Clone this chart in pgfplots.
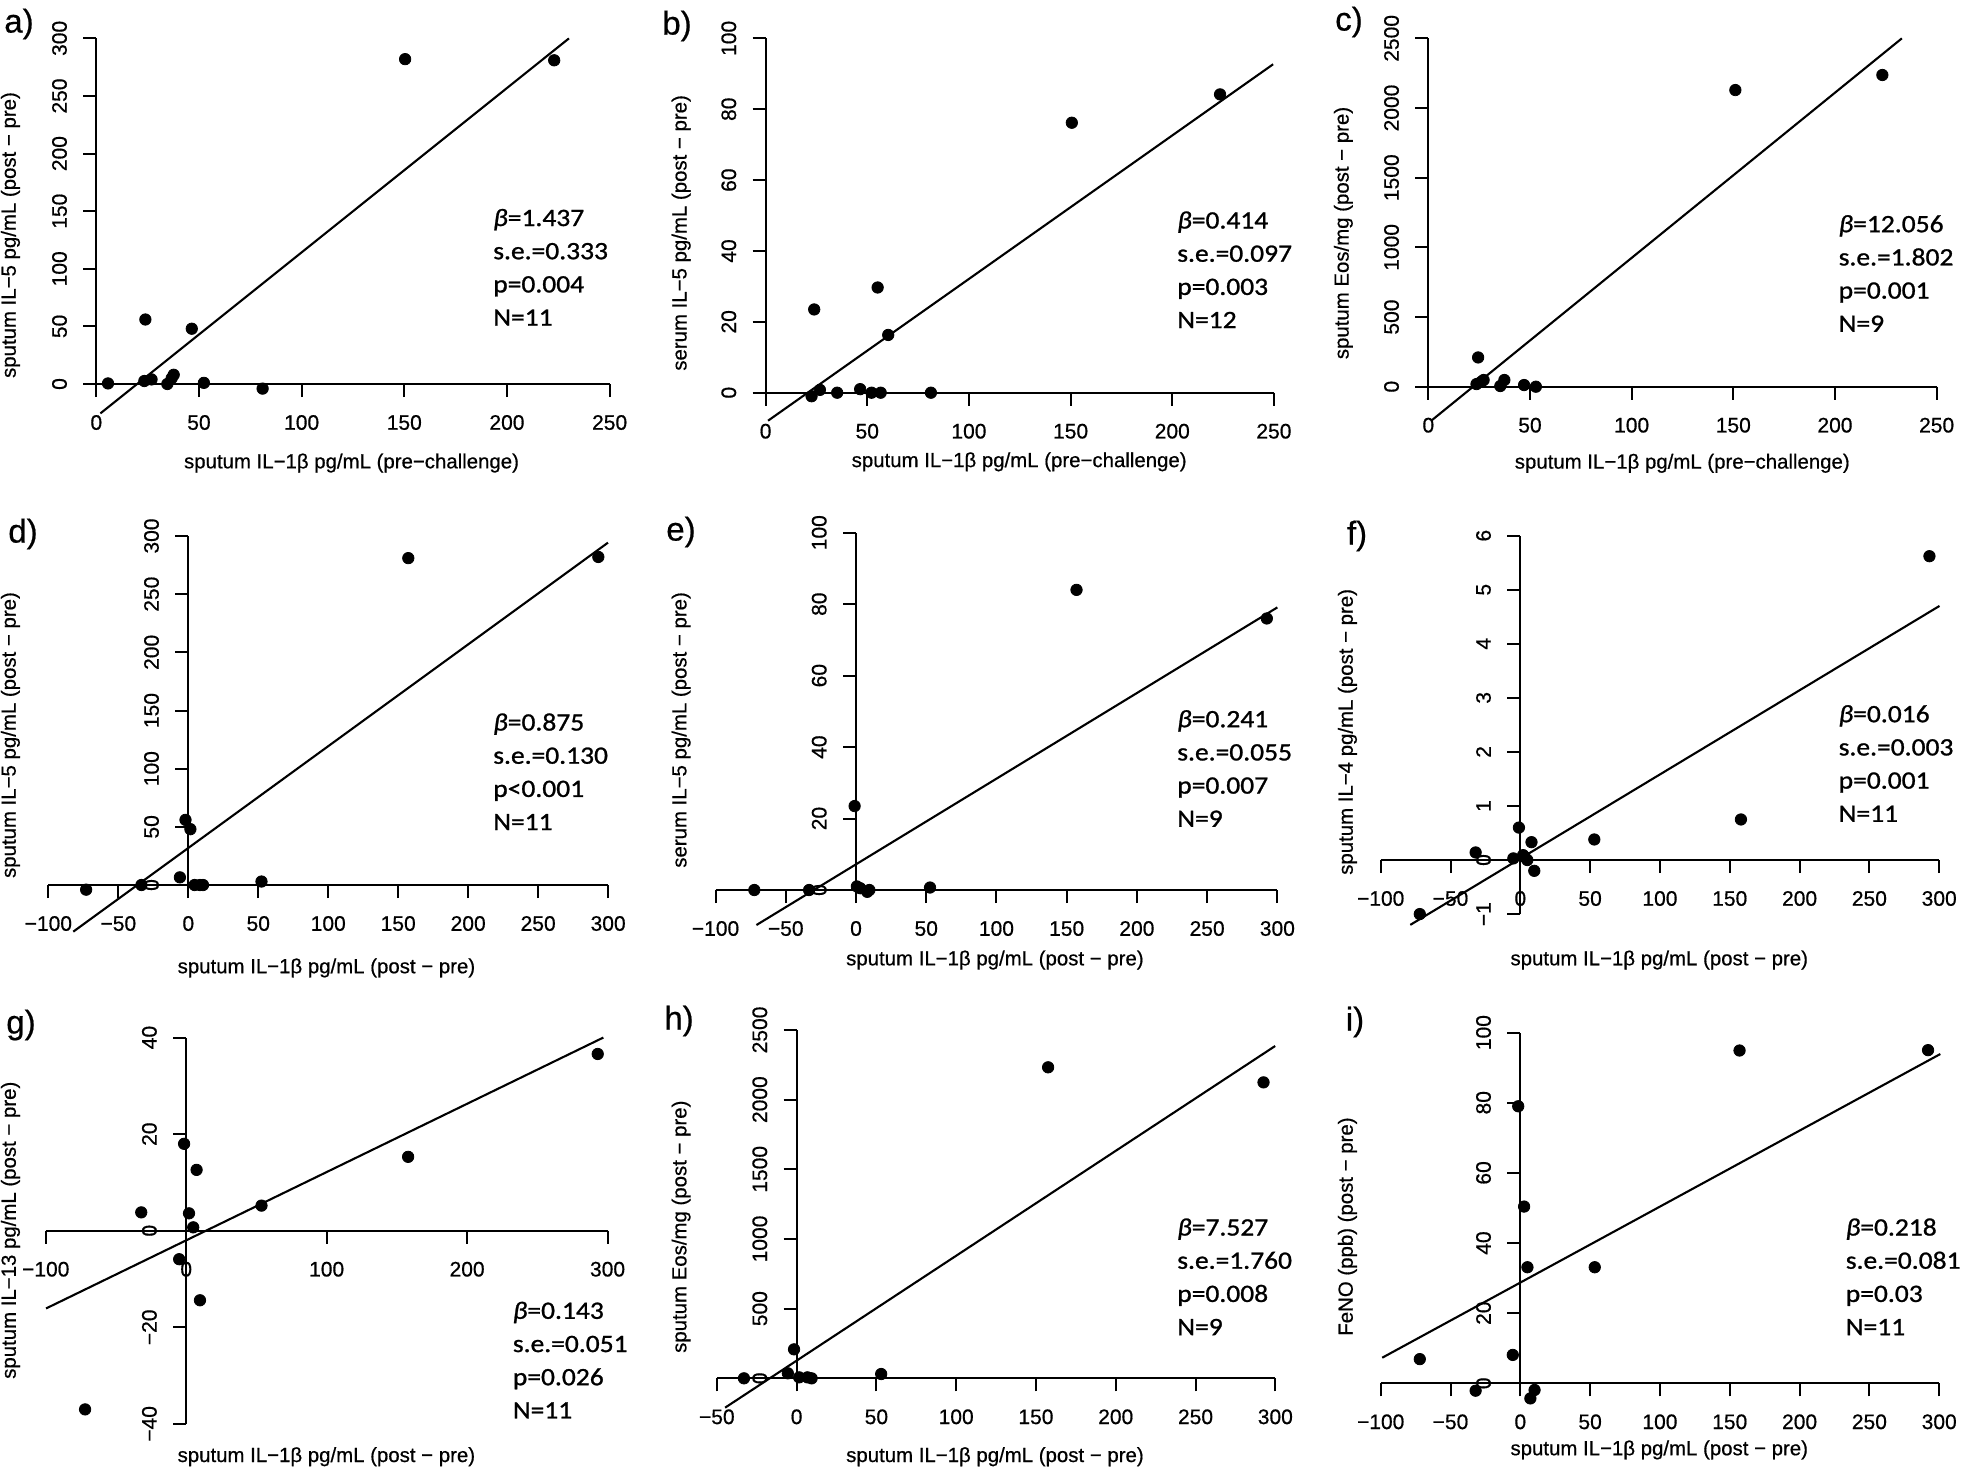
\documentclass[border=0pt]{standalone}
\usepackage{fontspec}
\usepackage{pgfplots}
\pgfplotsset{compat=1.18}
\setmainfont{Liberation Sans}[FakeBold=0.6]
\newfontfamily\statfamily[FakeStretch=1.1,FakeBold=1]{Carlito}
\newcommand{\tickfont}{\fontsize{10.5}{12}\selectfont}
\newcommand{\labfont}{\fontsize{10.2}{12}\selectfont}
\newcommand{\statfont}{\statfamily\fontsize{12.5}{15}\selectfont}
\newcommand{\panfont}{\fontsize{16.5}{19}\selectfont}
\newcommand{\stats}[6]{%
  \node[anchor=base west,inner sep=0pt,font=\statfont] at ({#1*0.5pt},{-#2*0.5pt}) {\textit{β}=#3};
  \node[anchor=base west,inner sep=0pt,font=\statfont] at ({#1*0.5pt},{-(#2+33.2)*0.5pt}) {s.e.=#4};
  \node[anchor=base west,inner sep=0pt,font=\statfont] at ({#1*0.5pt},{-(#2+66.4)*0.5pt}) {p#5};
  \node[anchor=base west,inner sep=0pt,font=\statfont] at ({#1*0.5pt},{-(#2+99.6)*0.5pt}) {N=#6};
}
\newcommand{\plab}[3]{\node[font=\panfont,inner sep=0pt] at ({#1*0.5pt},{-#2*0.5pt}) {#3)};}
\pgfplotsset{
  common/.style={
    axis line style={-, line width=1pt, black},
    enlargelimits=false,
    clip=false,
    anchor=origin,
    tick align=outside,
    major tick length=6.5pt,
    tick style={line width=1pt, black},
  },
  xpart/.style={
    axis x line*=bottom, axis y line=none, ytick=\empty, common, xtick pos=left,
    every axis x label/.style={anchor=center,font=\labfont,inner sep=0pt},
    xticklabel style={font=\tickfont, anchor=center, yshift=-12.75pt},
  },
  ypart/.style={
    axis y line*=left, axis x line=none, xtick=\empty, common, ytick pos=left,
    every axis y label/.style={rotate=90,anchor=center,font=\labfont,inner sep=0pt},
    yticklabel style={font=\tickfont, anchor=center, xshift=-11.9pt, rotate=90},
  },
  dots/.style={only marks, mark=*, mark size=2.85pt, black},
  fit/.style={no marks, black, line width=1.05pt},
  tkx/.style={ycomb, no marks, black, line width=1pt, forget plot},
  tky/.style={xcomb, no marks, black, line width=1pt, forget plot},
}
\begin{document}
\begin{tikzpicture}
\path[use as bounding box] (0,0) rectangle (984pt,-734pt);
% ---------- a
\begin{axis}[xpart, at={(48.15pt,-192pt)}, x=1.02665pt, y=0.576pt,
  xmin=0,xmax=250,ymin=0,ymax=300,
  xtick={0,50,100,150,200,250}, xticklabels={0,50,100,150,200,250},
  xlabel={sputum IL−1β pg/mL (pre−challenge)}, xlabel style={at={(axis cs:124.3,-68.6)}}]
\addplot[tkx] coordinates {(0,-11.285) (50,-11.285) (100,-11.285) (150,-11.285) (200,-11.285) (250,-11.285)};
\addplot[dots] coordinates {(5.7,0.5) (23.4,2.6) (23.9,56) (26.9,4) (34.6,0) (36.7,5) (37.7,8) (46.5,48) (52.4,1) (81,-4) (150.4,282) (223,281)};
\addplot[fit] coordinates {(2.0,-25.5) (230.2,300)};
\end{axis}
\begin{axis}[ypart, at={(48.15pt,-192pt)}, x=1.02665pt, y=0.576pt,
  xmin=0,xmax=250,ymin=0,ymax=300,
  ytick={0,50,100,150,200,250,300}, yticklabels={0,50,100,150,200,250,300},
  ylabel={sputum IL−5 pg/mL (post − pre)}, ylabel style={at={(axis cs:-41.8,129.3)}}]
\addplot[tky] coordinates {(-6.331,0) (-6.331,50) (-6.331,100) (-6.331,150) (-6.331,200) (-6.331,250) (-6.331,300)};
\end{axis}
% ---------- b
\begin{axis}[xpart, at={(382.8pt,-196.35pt)}, x=1.01665pt, y=1.7715pt,
  xmin=0,xmax=250,ymin=0,ymax=100,
  xtick={0,50,100,150,200,250}, xticklabels={0,50,100,150,200,250},
  xlabel={sputum IL−1β pg/mL (pre−challenge)}, xlabel style={at={(axis cs:124.7,-19.5)}}]
\addplot[tkx] coordinates {(0,-3.669) (50,-3.669) (100,-3.669) (150,-3.669) (200,-3.669) (250,-3.669)};
\addplot[dots] coordinates {(22.6,-1) (23.9,23.5) (26.7,0.8) (35.2,0) (46.5,1) (52.1,0) (55.1,29.7) (56.6,0) (60.3,16.3) (81.3,0) (150.6,76.2) (223.5,84.2)};
\addplot[fit] coordinates {(1.2,-7.9) (249.6,92.7)};
\end{axis}
\begin{axis}[ypart, at={(382.8pt,-196.35pt)}, x=1.01665pt, y=1.7715pt,
  xmin=0,xmax=250,ymin=0,ymax=100,
  ytick={0,20,40,60,80,100}, yticklabels={0,20,40,60,80,100},
  ylabel={serum IL−5 pg/mL (post − pre)}, ylabel style={at={(axis cs:-41.5,45.1)}}]
\addplot[tky] coordinates {(-6.394,0) (-6.394,20) (-6.394,40) (-6.394,60) (-6.394,80) (-6.394,100)};
\end{axis}
% ---------- c
\begin{axis}[xpart, at={(714.15pt,-193.35pt)}, x=1.01665pt, y=0.069665pt,
  xmin=0,xmax=250,ymin=0,ymax=2500,
  xtick={0,50,100,150,200,250}, xticklabels={0,50,100,150,200,250},
  xlabel={sputum IL−1β pg/mL (pre−challenge)}, xlabel style={at={(axis cs:124.9,-549.8)}}]
\addplot[tkx] coordinates {(0,-93.3) (50,-93.3) (100,-93.3) (150,-93.3) (200,-93.3) (250,-93.3)};
\addplot[dots] coordinates {(23.7,19) (24.5,210) (26.1,36) (27.2,48) (35.4,5) (37.4,48) (47.1,12) (52.9,0) (151,2129) (223.3,2237)};
\addplot[fit] coordinates {(1.44,-244) (232.9,2500)};
\end{axis}
\begin{axis}[ypart, at={(714.15pt,-193.35pt)}, x=1.01665pt, y=0.069665pt,
  xmin=0,xmax=250,ymin=0,ymax=2500,
  ytick={0,500,1000,1500,2000,2500}, yticklabels={0,500,1000,1500,2000,2500},
  ylabel={sputum Eos/mg (post − pre)}, ylabel style={at={(axis cs:-41.8,1103)}}]
\addplot[tky] coordinates {(-6.394,0) (-6.394,500) (-6.394,1000) (-6.394,1500) (-6.394,2000) (-6.394,2500)};
\end{axis}
% ---------- d
\begin{axis}[xpart, at={(94.15pt,-442.5pt)}, x=0.6997pt, y=0.58165pt,
  xmin=-100,xmax=300,ymin=0,ymax=300,
  xtick={-100,-50,0,50,100,150,200,250,300}, xticklabels={−100,−50,0,50,100,150,200,250,300},
  xlabel={sputum IL−1β pg/mL (post − pre)}, xlabel style={at={(axis cs:98.7,-71.3)}}]
\addplot[tkx] coordinates {(-100,-11.175) (-50,-11.175) (0,-11.175) (50,-11.175) (100,-11.175) (150,-11.175) (200,-11.175) (250,-11.175) (300,-11.175)};
\addplot[dots] coordinates {(-73,-4) (-33.5,0) (-6,6.6) (-2,56) (1.5,48) (4.5,0) (8.4,0) (10.5,0) (52.3,3) (157.2,281) (293,282)};
\addplot[fit] coordinates {(-82.2,-40.1) (299.9,294.3)};
\end{axis}
\begin{axis}[ypart, at={(94.15pt,-442.5pt)}, x=0.6997pt, y=0.58165pt,
  xmin=0,xmax=300,ymin=0,ymax=300,
  ytick={0,50,100,150,200,250,300}, yticklabels={0,50,100,150,200,250,300},
  ylabel={sputum IL−5 pg/mL (post − pre)}, ylabel style={at={(axis cs:-127.1,128.9)}}]
\addplot[tky] coordinates {(-9.29,0) (-9.29,50) (-9.29,100) (-9.29,150) (-9.29,200) (-9.29,250) (-9.29,300)};
\end{axis}
% ---------- e
\begin{axis}[xpart, at={(428pt,-445pt)}, x=0.70225pt, y=1.7865pt,
  xmin=-100,xmax=300,ymin=0,ymax=100,
  xtick={-100,-50,0,50,100,150,200,250,300}, xticklabels={−100,−50,0,50,100,150,200,250,300},
  xlabel={sputum IL−1β pg/mL (post − pre)}, xlabel style={at={(axis cs:98.9,-19.6)}}]
\addplot[tkx] coordinates {(-100,-3.638) (-50,-3.638) (0,-3.638) (50,-3.638) (100,-3.638) (150,-3.638) (200,-3.638) (250,-3.638) (300,-3.638)};
\addplot[dots] coordinates {(-72.4,0) (-33.4,0) (-1,23.5) (0.6,1) (3,0.5) (8,-0.5) (9.5,0) (52.7,0.7) (157,84) (292.5,76)};
\addplot[fit] coordinates {(-70.9,-9.8) (300,79.1)};
\end{axis}
\begin{axis}[ypart, at={(428pt,-445pt)}, x=0.70225pt, y=1.7865pt,
  xmin=0,xmax=300,ymin=0,ymax=100,
  ytick={0,20,40,60,80,100}, yticklabels={0,20,40,60,80,100},
  ylabel={serum IL−5 pg/mL (post − pre)}, ylabel style={at={(axis cs:-124.5,44.8)}}]
\addplot[tky] coordinates {(-9.256,0) (-9.256,20) (-9.256,40) (-9.256,60) (-9.256,80) (-9.256,100)};
\end{axis}
% ---------- f
\begin{axis}[xpart, at={(760.15pt,-430pt)}, x=0.69815pt, y=27.03pt,
  xmin=-100,xmax=300,ymin=0,ymax=6,
  xtick={-100,-50,0,50,100,150,200,250,300}, xticklabels={−100,−50,0,50,100,150,200,250,300},
  xlabel={sputum IL−1β pg/mL (post − pre)}, xlabel style={at={(axis cs:99.5,-1.85)}}]
\addplot[tkx] coordinates {(-100,-0.2405) (-50,-0.2405) (0,-0.2405) (50,-0.2405) (100,-0.2405) (150,-0.2405) (200,-0.2405) (250,-0.2405) (300,-0.2405)};
\addplot[dots] coordinates {(-72,-1) (-32,0.14) (-5,0.03) (-1,0.6) (2,0.09) (3,0.06) (5,0) (8,0.33) (10,-0.2) (53,0.38) (158,0.75) (293,5.62)};
\addplot[fit] coordinates {(-78.8,-1.2) (300.2,4.7)};
\end{axis}
\begin{axis}[ypart, at={(760.15pt,-430pt)}, x=0.69815pt, y=27.03pt,
  xmin=0,xmax=300,ymin=-1,ymax=6,
  ytick={-1,0,1,2,3,4,5,6}, yticklabels={−1,0,1,2,3,4,5,6},
  ylabel={sputum IL−4 pg/mL (post − pre)}, ylabel style={at={(axis cs:-123.8,2.37)}}]
\addplot[tky] coordinates {(-9.31,-1) (-9.31,0) (-9.31,1) (-9.31,2) (-9.31,3) (-9.31,4) (-9.31,5) (-9.31,6)};
\end{axis}
% ---------- g
\begin{axis}[xpart, at={(93.1pt,-615.35pt)}, x=0.70225pt, y=2.4145pt,
  xmin=-100,xmax=300,ymin=0,ymax=40,
  xtick={-100,0,100,200,300}, xticklabels={−100,0,100,200,300},
  xlabel={sputum IL−1β pg/mL (post − pre)}, xlabel style={at={(axis cs:99.8,-46.8)}}]
\addplot[tkx] coordinates {(-100,-2.692) (0,-2.692) (100,-2.692) (200,-2.692) (300,-2.692)};
\addplot[dots] coordinates {(-72,-37) (-32,3.8) (-5,-5.9) (-1.5,18) (2,3.6) (5,0.7) (7.4,12.6) (9.8,-14.4) (53.6,5.2) (158,15.3) (293,36.6)};
\addplot[fit] coordinates {(-99.8,-16.1) (297,40)};
\end{axis}
\begin{axis}[ypart, at={(93.1pt,-615.35pt)}, x=0.70225pt, y=2.4145pt,
  xmin=0,xmax=300,ymin=-40,ymax=40,
  ytick={-40,-20,0,20,40}, yticklabels={−40,−20,0,20,40},
  ylabel={sputum IL−13 pg/mL (post − pre)}, ylabel style={at={(axis cs:-125.1,0.1)}}]
\addplot[tky] coordinates {(-9.256,-40) (-9.256,-20) (-9.256,0) (-9.256,20) (-9.256,40)};
\end{axis}
% ---------- h
\begin{axis}[xpart, at={(398.3pt,-689.15pt)}, x=0.79785pt, y=0.069665pt,
  xmin=-50,xmax=300,ymin=0,ymax=2500,
  xtick={-50,0,50,100,150,200,250,300}, xticklabels={−50,0,50,100,150,200,250,300},
  xlabel={sputum IL−1β pg/mL (post − pre)}, xlabel style={at={(axis cs:124.3,-562.7)}}]
\addplot[tkx] coordinates {(-50,-93.3) (0,-93.3) (50,-93.3) (100,-93.3) (150,-93.3) (200,-93.3) (250,-93.3) (300,-93.3)};
\addplot[dots] coordinates {(-33,0) (-5.5,36) (-1.6,208) (1.6,7) (6.8,7) (9.4,0) (53,31) (157.6,2232) (292.6,2124)};
\addplot[fit] coordinates {(-44.8,-210.5) (299.9,2385)};
\end{axis}
\begin{axis}[ypart, at={(398.3pt,-689.15pt)}, x=0.79785pt, y=0.069665pt,
  xmin=0,xmax=300,ymin=0,ymax=2500,
  ytick={0,500,1000,1500,2000,2500}, yticklabels={0,500,1000,1500,2000,2500},
  ylabel={sputum Eos/mg (post − pre)}, ylabel style={at={(axis cs:-72.4,1088)}}]
\addplot[tky] coordinates {(-8.147,0) (-8.147,500) (-8.147,1000) (-8.147,1500) (-8.147,2000) (-8.147,2500)};
\end{axis}
% ---------- i
\begin{axis}[xpart, at={(760.15pt,-691.65pt)}, x=0.69815pt, y=1.7535pt,
  xmin=-100,xmax=300,ymin=0,ymax=100,
  xtick={-100,-50,0,50,100,150,200,250,300}, xticklabels={−100,−50,0,50,100,150,200,250,300},
  xlabel={sputum IL−1β pg/mL (post − pre)}, xlabel style={at={(axis cs:99.5,-19.0)}}]
\addplot[tkx] coordinates {(-100,-3.707) (-50,-3.707) (0,-3.707) (50,-3.707) (100,-3.707) (150,-3.707) (200,-3.707) (250,-3.707) (300,-3.707)};
\addplot[dots] coordinates {(-72,6.9) (-32,-2.1) (-5.4,8.1) (-1.5,79) (2.7,50.4) (5.1,33.1) (7.2,-4.3) (10.2,-1.9) (53.3,33.1) (157,94.9) (292,95)};
\addplot[fit] coordinates {(-98.9,7.3) (300.8,93.9)};
\end{axis}
\begin{axis}[ypart, at={(760.15pt,-691.65pt)}, x=0.69815pt, y=1.7535pt,
  xmin=0,xmax=300,ymin=0,ymax=100,
  ytick={0,20,40,60,80,100}, yticklabels={0,20,40,60,80,100},
  ylabel={FeNO (ppb) (post − pre)}, ylabel style={at={(axis cs:-123.8,44.7)}}]
\addplot[tky] coordinates {(-9.31,0) (-9.31,20) (-9.31,40) (-9.31,60) (-9.31,80) (-9.31,100)};
\end{axis}
% ---------- annotations
\stats{492.9}{226}{1.437}{0.333}{=0.004}{11}
\stats{1176.9}{228.5}{0.414}{0.097}{=0.003}{12}
\stats{1838.3}{232.2}{12.056}{1.802}{=0.001}{9}
\stats{492.9}{730.5}{0.875}{0.130}{<0.001}{11}
\stats{1176.9}{727.2}{0.241}{0.055}{=0.007}{9}
\stats{1838.3}{722.2}{0.016}{0.003}{=0.001}{11}
\stats{512.5}{1318.8}{0.143}{0.051}{=0.026}{11}
\stats{1176.9}{1235.5}{7.527}{1.760}{=0.008}{9}
\stats{1845.4}{1235.5}{0.218}{0.081}{=0.03}{11}
\plab{19}{24}{a}
\plab{677}{26}{b}
\plab{1349}{22}{c}
\plab{23}{534}{d}
\plab{681}{532}{e}
\plab{1357}{536}{f}
\plab{21}{1025}{g}
\plab{679}{1021}{h}
\plab{1355}{1022}{i}
\end{tikzpicture}
\end{document}
